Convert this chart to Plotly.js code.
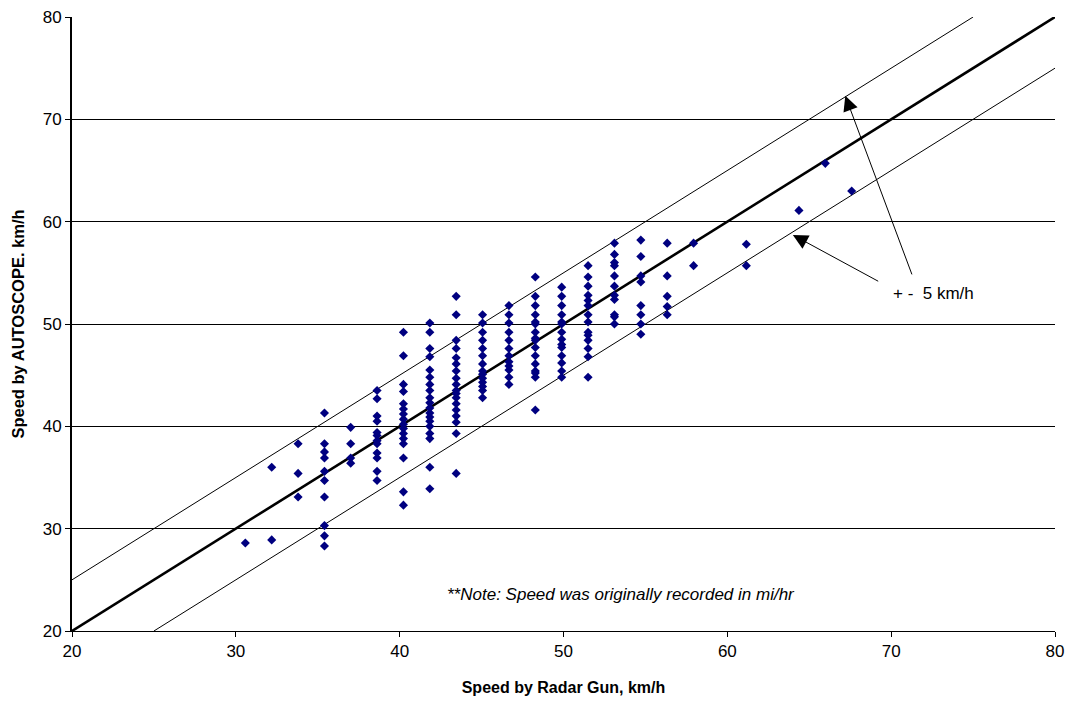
<!DOCTYPE html>
<html>
<head>
<meta charset="utf-8">
<script src="https://cdn.plot.ly/plotly-3.0.1.min.js"></script>
<style>html,body{margin:0;padding:0;background:#fff;}#chart{width:1070px;height:707px;}</style>
</head>
<body>
<div id="chart"></div>
<script>
// Radar gun speed (km/h), converted from whole mi/hr values
const radarSpeed = [
  30.58,
  32.19, 32.19,
  33.80, 33.80, 33.80,
  35.41, 35.41, 35.41, 35.41, 35.41, 35.41, 35.41, 35.41, 35.41, 35.41,
  37.01, 37.01, 37.01, 37.01,
  38.62, 38.62, 38.62, 38.62, 38.62, 38.62, 38.62, 38.62, 38.62, 38.62, 38.62, 38.62,
  40.23, 40.23, 40.23, 40.23, 40.23, 40.23, 40.23, 40.23, 40.23, 40.23, 40.23, 40.23, 40.23, 40.23, 40.23, 40.23,
  41.84, 41.84, 41.84, 41.84, 41.84, 41.84, 41.84, 41.84, 41.84, 41.84, 41.84, 41.84, 41.84, 41.84, 41.84, 41.84, 41.84, 41.84, 41.84,
  43.45, 43.45, 43.45, 43.45, 43.45, 43.45, 43.45, 43.45, 43.45, 43.45, 43.45, 43.45, 43.45, 43.45, 43.45, 43.45, 43.45, 43.45,
  45.06, 45.06, 45.06, 45.06, 45.06, 45.06, 45.06, 45.06, 45.06, 45.06, 45.06, 45.06, 45.06, 45.06,
  46.67, 46.67, 46.67, 46.67, 46.67, 46.67, 46.67, 46.67, 46.67, 46.67, 46.67, 46.67,
  48.28, 48.28, 48.28, 48.28, 48.28, 48.28, 48.28, 48.28, 48.28, 48.28, 48.28, 48.28, 48.28, 48.28, 48.28, 48.28,
  49.89, 49.89, 49.89, 49.89, 49.89, 49.89, 49.89, 49.89, 49.89, 49.89, 49.89, 49.89, 49.89, 49.89,
  51.50, 51.50, 51.50, 51.50, 51.50, 51.50, 51.50, 51.50, 51.50, 51.50, 51.50, 51.50, 51.50, 51.50,
  53.11, 53.11, 53.11, 53.11, 53.11, 53.11, 53.11, 53.11, 53.11, 53.11, 53.11,
  54.72, 54.72, 54.72, 54.72, 54.72, 54.72, 54.72, 54.72,
  56.33, 56.33, 56.33, 56.33, 56.33,
  57.94, 57.94,
  61.16, 61.16,
  64.37,
  65.98,
  67.59
];
// AUTOSCOPE speed (km/h), same order as radarSpeed
const autoscopeSpeed = [
  28.6,
  36.0, 28.9,
  38.3, 35.4, 33.1,
  41.3, 38.3, 37.5, 36.9, 35.6, 34.7, 33.1, 30.3, 29.3, 28.3,
  39.9, 38.3, 36.9, 36.4,
  43.5, 42.7, 41.0, 40.5, 39.4, 39.1, 38.6, 38.3, 37.4, 36.9, 35.6, 34.7,
  49.2, 46.9, 44.1, 43.4, 42.2, 41.7, 41.2, 40.7, 40.2, 39.8, 39.3, 38.8, 38.3, 36.9, 33.6, 32.3,
  50.1, 49.2, 47.6, 46.8, 45.5, 44.8, 44.1, 43.5, 42.8, 42.3, 41.8, 41.3, 40.9, 40.5, 40.0, 39.3, 38.8, 36.0, 33.9,
  52.7, 50.9, 48.4, 47.6, 46.7, 46.1, 45.4, 44.7, 44.1, 43.5, 43.2, 42.8, 42.2, 41.6, 41.0, 40.4, 39.3, 35.4,
  50.9, 50.1, 49.2, 48.4, 47.6, 46.9, 46.1, 45.4, 45.1, 44.7, 44.3, 43.9, 43.5, 42.8,
  51.8, 50.9, 50.1, 49.2, 48.4, 47.6, 46.9, 46.3, 45.9, 45.5, 44.8, 44.1,
  54.6, 52.7, 51.8, 50.9, 50.2, 50.0, 49.2, 48.6, 48.4, 47.7, 46.9, 46.1, 45.4, 45.2, 44.8, 41.6,
  53.6, 52.7, 51.8, 50.9, 50.2, 50.0, 49.2, 48.5, 48.0, 47.7, 46.9, 46.2, 45.4, 44.8,
  55.7, 54.6, 53.7, 52.8, 52.3, 51.8, 50.9, 50.2, 49.2, 48.9, 48.4, 47.6, 46.8, 44.8,
  57.9, 56.8, 56.0, 55.7, 54.7, 53.7, 52.8, 52.4, 50.9, 50.7, 50.0,
  58.2, 56.6, 54.7, 54.1, 51.8, 50.9, 50.0, 49.0,
  57.9, 54.7, 52.7, 51.7, 50.9,
  57.9, 55.7,
  57.8, 55.7,
  61.1,
  65.7,
  63.0
];
// Equality line and +/- 5 km/h band
const lineX = [20, 80];
const lineY = [20, 80];
const upperX = [20, 75];
const upperY = [25, 80];
const lowerX = [25, 80];
const lowerY = [20, 75];
const xTicks = [20, 30, 40, 50, 60, 70, 80];
const yTicks = [20, 30, 40, 50, 60, 70, 80];

const font = "Arial, 'Liberation Sans', sans-serif";

const traces = [
  {x: upperX, y: upperY, mode: 'lines', line: {color: '#000', width: 1}, hoverinfo: 'skip'},
  {x: lowerX, y: lowerY, mode: 'lines', line: {color: '#000', width: 1}, hoverinfo: 'skip'},
  {x: lineX, y: lineY, mode: 'lines', line: {color: '#000', width: 2.6}, hoverinfo: 'skip'},
  {x: radarSpeed, y: autoscopeSpeed, mode: 'markers', type: 'scatter',
   marker: {symbol: 'diamond', size: 7, color: '#000080'}}
];

const layout = {
  width: 1070, height: 707,
  margin: {l: 72, r: 15, t: 17, b: 76},
  paper_bgcolor: '#fff', plot_bgcolor: '#fff',
  showlegend: false,
  font: {family: font, size: 17, color: '#000'},
  xaxis: {
    range: [20, 80], tickvals: xTicks, ticktext: xTicks.map(String),
    showgrid: false, zeroline: false,
    showline: true, linecolor: '#000', linewidth: 1,
    ticks: 'outside', ticklen: 5, tickcolor: '#000',
    tickfont: {family: font, size: 17},
    title: {text: '<b>Speed by Radar Gun, km/h</b>', font: {family: font, size: 16}, standoff: 21}
  },
  yaxis: {
    range: [20, 80], tickvals: yTicks, ticktext: yTicks.map(String),
    showgrid: true, gridcolor: '#000', gridwidth: 1, zeroline: false,
    showline: true, linecolor: '#000', linewidth: 2,
    ticks: 'outside', ticklen: 5, tickcolor: '#000',
    tickfont: {family: font, size: 17},
    title: {text: '<b>Speed by AUTOSCOPE. km/h</b>', font: {family: font, size: 16.5}, standoff: 14}
  },
  annotations: [
    {x: 53.5, y: 23.6, xref: 'x', yref: 'y', text: '<i>**Note: Speed was originally recorded in mi/hr</i>',
     showarrow: false, font: {family: font, size: 17, color: '#000'}},
    {x: 72.6, y: 53.0, xref: 'x', yref: 'y', text: '+ -  5 km/h', showarrow: false,
     font: {family: font, size: 17, color: '#000'}},
    {x: 67.2, y: 72.3, xref: 'x', yref: 'y', ax: 71.3, ay: 54.7, axref: 'x', ayref: 'y',
     text: '', showarrow: true, arrowhead: 2, arrowsize: 3, arrowwidth: 1, arrowcolor: '#000'},
    {x: 64.0, y: 58.7, xref: 'x', yref: 'y', ax: 69.3, ay: 54.1, axref: 'x', ayref: 'y',
     text: '', showarrow: true, arrowhead: 2, arrowsize: 3, arrowwidth: 1, arrowcolor: '#000'}
  ]
};

Plotly.newPlot('chart', traces, layout, {displayModeBar: false, staticPlot: true});
</script>
</body>
</html>
